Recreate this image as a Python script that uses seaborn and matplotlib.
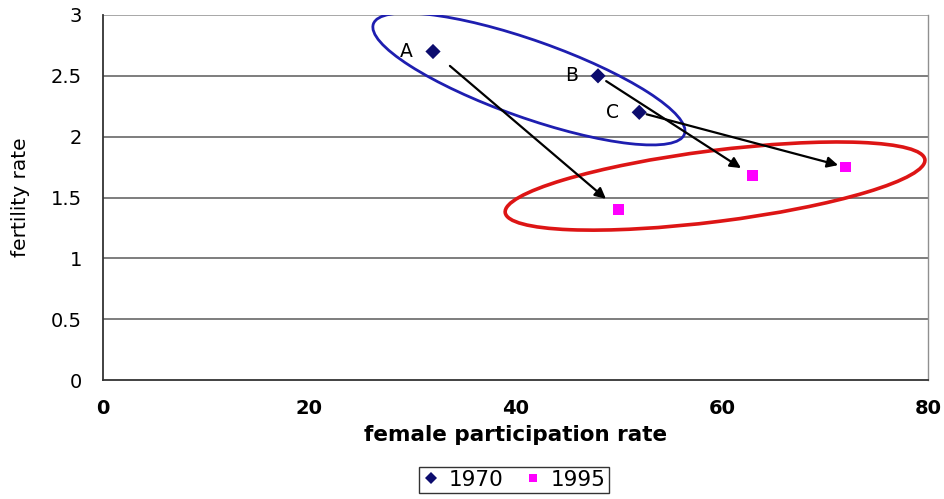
import matplotlib
matplotlib.use("Agg")
import matplotlib.pyplot as plt
import matplotlib.transforms as mtransforms
from matplotlib.patches import Ellipse
import seaborn as sns
import pandas as pd

# ---- data ----
countries = ["A", "B", "C"]
part_1970 = [32, 48, 52]
fert_1970 = [2.7, 2.5, 2.2]
part_1995 = [50, 63, 72]
fert_1995 = [1.4, 1.68, 1.75]
years = ["1970", "1995"]
x_ticks = [0, 20, 40, 60, 80]
y_ticks = [0, 0.5, 1, 1.5, 2, 2.5, 3]
y_tick_labels = ["0", "0.5", "1", "1.5", "2", "2.5", "3"]

df = pd.DataFrame({
    "country": countries * 2,
    "participation": part_1970 + part_1995,
    "fertility": fert_1970 + fert_1995,
    "year": [years[0]] * 3 + [years[1]] * 3,
})

sns.set_theme(style="white")
plt.rcParams["font.family"] = ["DejaVu Sans"]
plt.rcParams["text.color"] = "black"
plt.rcParams["axes.labelcolor"] = "black"
plt.rcParams["xtick.color"] = "black"
plt.rcParams["ytick.color"] = "black"

fig = plt.figure(figsize=(9.44, 4.99), dpi=100)
ax = fig.add_axes([103 / 944, 1 - 380 / 499, 825 / 944, 365 / 499])

ax.set_xlim(0, 80)
ax.set_ylim(0, 3)
ax.set_yticks(y_ticks)
ax.set_yticklabels(y_tick_labels)
ax.set_xticks(x_ticks)
for y in y_ticks[1:]:
    ax.axhline(y, color="#5a5a5a" if y < 3 else "#909090", lw=1.1, zorder=0)

# ellipses (annotation shapes, sized in inches around a data-space centre)
def draw_ellipse(cx, cy, w_in, h_in, angle, color, lw):
    trans = fig.dpi_scale_trans + mtransforms.ScaledTranslation(cx, cy, ax.transData)
    e = Ellipse((0, 0), w_in, h_in, angle=angle, transform=trans,
                fill=False, edgecolor=color, lw=lw, zorder=3)
    ax.add_patch(e)

draw_ellipse(41.3, 2.474, 3.30, 0.77, -19.5, "#1e1eb0", 2.0)
draw_ellipse(59.35, 1.594, 4.23, 0.71, 7.2, "#dd1515", 2.6)

sns.scatterplot(data=df, x="participation", y="fertility", hue="year", style="year",
                palette={"1970": "#0c0c6e", "1995": "#ff00ff"},
                markers={"1970": "D", "1995": "s"},
                s=60, linewidth=0, ax=ax, zorder=5)

# arrows from 1970 to 1995
shrinks = [(16, 12), (7, 10), (5.5, 5.5)]
for i in range(3):
    ax.annotate("", xy=(part_1995[i], fert_1995[i]), xytext=(part_1970[i], fert_1970[i]),
                arrowprops=dict(arrowstyle="-|>", color="black", lw=1.6,
                                shrinkA=shrinks[i][0], shrinkB=shrinks[i][1],
                                mutation_scale=16),
                zorder=4)
    ax.annotate(countries[i], xy=(part_1970[i], fert_1970[i]), xytext=(-19, 0),
                textcoords="offset points", ha="center", va="center",
                fontsize=13.5, color="black", zorder=6)

# spines & ticks
ax.spines["top"].set_visible(False)
ax.spines["right"].set_color("#909090")
ax.spines["right"].set_linewidth(1.0)
for side in ["left", "bottom"]:
    ax.spines[side].set_color("#333333")
    ax.spines[side].set_linewidth(1.3)
ax.tick_params(axis="x", direction="in", length=4, width=1, color="#333333",
               pad=14, labelsize=14)
ax.tick_params(axis="y", length=0, pad=15, labelsize=14)
for lbl in ax.get_xticklabels():
    lbl.set_fontweight("bold")

ax.set_xlabel("female participation rate", fontsize=15.5, fontweight="bold", labelpad=5)
ax.set_ylabel("fertility rate", fontsize=14.5, labelpad=15)

sns.move_legend(ax, loc="center", bbox_to_anchor=(514 / 944, 1 - 480 / 499),
                bbox_transform=fig.transFigure, ncol=2, title=None, frameon=True,
                fontsize=15.5, handlelength=0.8, handletextpad=0.4, columnspacing=1.0,
                borderpad=0.15, fancybox=False, edgecolor="black", markerscale=0.8)
leg = ax.get_legend()
leg.get_frame().set_linewidth(1.0)

fig.savefig("out.png", dpi=100, facecolor="white")
